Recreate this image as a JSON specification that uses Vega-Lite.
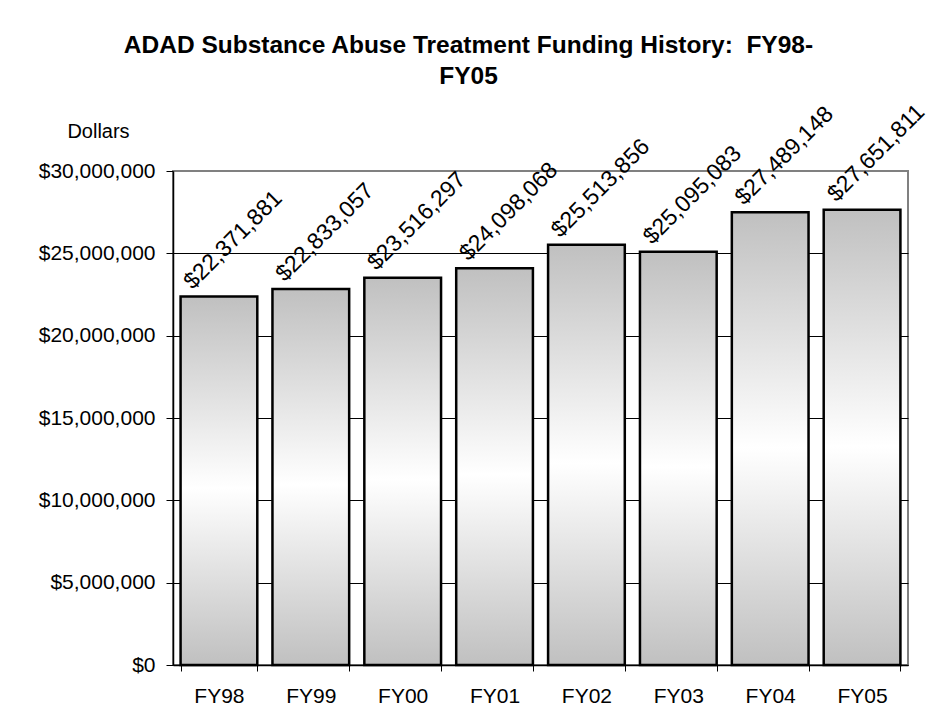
{
  "$schema": "https://vega.github.io/schema/vega-lite/v6.json",
  "width": 735,
  "height": 494,
  "autosize": {"type": "none"},
  "padding": {"left": 173, "top": 171, "right": 35, "bottom": 50},
  "background": "white",
  "title": {
    "text": ["ADAD Substance Abuse Treatment Funding History:\u00a0 FY98-", "FY05"],
    "font": "Liberation Sans",
    "fontSize": 24.5,
    "fontWeight": "bold",
    "color": "black",
    "anchor": "middle",
    "frame": "group",
    "dx": -72,
    "lineHeight": 31,
    "offset": 11
  },
  "config": {
    "font": "Liberation Sans",
    "view": {"stroke": "#808080", "strokeWidth": 2},
    "axis": {
      "labelFont": "Liberation Sans",
      "labelFontSize": 21,
      "labelColor": "black",
      "titleFont": "Liberation Sans",
      "titleColor": "black",
      "domainColor": "black",
      "domainWidth": 1.5,
      "tickColor": "black",
      "tickWidth": 1
    }
  },
  "data": {
    "values": [
      {"year": "FY98", "amount": 22371881},
      {"year": "FY99", "amount": 22833057},
      {"year": "FY00", "amount": 23516297},
      {"year": "FY01", "amount": 24098068},
      {"year": "FY02", "amount": 25513856},
      {"year": "FY03", "amount": 25095083},
      {"year": "FY04", "amount": 27489148},
      {"year": "FY05", "amount": 27651811}
    ]
  },
  "encoding": {
    "x": {
      "field": "year",
      "type": "nominal",
      "sort": null,
      "scale": {"paddingInner": 0.165, "paddingOuter": 0.0825},
      "axis": {
        "title": null,
        "labelAngle": 0,
        "tickBand": "extent",
        "tickSize": 6,
        "labelPadding": 14,
        "labelBaseline": "top"
      }
    },
    "y": {
      "field": "amount",
      "type": "quantitative",
      "scale": {"domain": [0, 30000000], "nice": false},
      "axis": {
        "title": "Dollars",
        "titleAngle": 0,
        "titleX": -75,
        "titleY": -40,
        "titleAlign": "center",
        "titleBaseline": "middle",
        "titleFontSize": 20,
        "titleFontWeight": "normal",
        "values": [0, 5000000, 10000000, 15000000, 20000000, 25000000, 30000000],
        "format": "$,.0f",
        "tickSize": 7,
        "labelPadding": 11,
        "grid": true,
        "gridColor": "black",
        "gridWidth": 1,
        "gridOpacity": {"condition": {"test": "datum.value >= 30000000", "value": 0}, "value": 1}
      }
    }
  },
  "layer": [
    {
      "mark": {
        "type": "bar",
        "stroke": "black",
        "strokeWidth": 2.5,
        "fill": {
          "gradient": "linear",
          "x1": 0, "y1": 0, "x2": 0, "y2": 1,
          "stops": [
            {"offset": 0, "color": "#c0c0c0"},
            {"offset": 0.52, "color": "#ffffff"},
            {"offset": 1, "color": "#c0c0c0"}
          ]
        }
      }
    },
    {
      "mark": {
        "type": "text",
        "angle": 315,
        "align": "center",
        "baseline": "middle",
        "dx": 50,
        "dy": -30,
        "fontSize": 23,
        "color": "black"
      },
      "encoding": {
        "text": {"field": "amount", "type": "quantitative", "format": "$,.0f"}
      }
    }
  ]
}
